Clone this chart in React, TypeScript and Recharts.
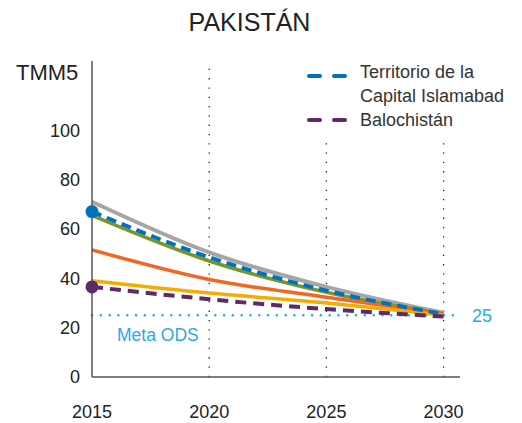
import { LineChart, Line, XAxis, YAxis, ReferenceLine, Label } from "recharts";

const years = [2015, 2020, 2025, 2030];
const nacional = [71, 50.5, 36.5, 26];
const islamabad = [67, 48.5, 35, 25.5];
const verde = [65.5, 47, 34.3, 25.5];
const naranja = [51.5, 39.5, 32.3, 25.5];
const amarillo = [39, 34, 30, 25];
const balochistan = [36.5, 31.5, 27.5, 24.5];
const yTicks = [0, 20, 40, 60, 80, 100];
const metaODS = 25;

const data = years.map((year, i) => ({
  year,
  nacional: nacional[i],
  islamabad: islamabad[i],
  verde: verde[i],
  naranja: naranja[i],
  amarillo: amarillo[i],
  balochistan: balochistan[i],
}));

const font = "'Liberation Sans', Arial, sans-serif";
const textColor = "#222";

function firstDot(color: string) {
  return (props: any) => {
    const { cx, cy, index } = props;
    if (index !== 0) return <g key={`d${index}`} />;
    return <circle key={`d${index}`} cx={cx} cy={cy} r={6.5} fill={color} />;
  };
}

function LegendDash({ color, top }: { color: string; top: number }) {
  return (
    <svg width={42} height={8} style={{ position: "absolute", left: 305, top: top - 4 }}>
      <line x1={4} y1={4} x2={40} y2={4} stroke={color} strokeWidth={4} strokeLinecap="round" strokeDasharray="11 14" />
    </svg>
  );
}

const legendText = { position: "absolute" as const, left: 360, fontSize: 18, color: "#333", lineHeight: "22px", whiteSpace: "nowrap" as const };

export default function App() {
  return (
    <div style={{ position: "absolute", left: 0, top: 0, width: 522, height: 423, background: "#fff", fontFamily: font }}>
      <div style={{ position: "absolute", left: 0, width: 499, top: 8, textAlign: "center", fontSize: 25, color: textColor }}>
        PAKISTÁN
      </div>
      <div style={{ position: "absolute", left: 16, top: 60, fontSize: 22, color: textColor }}>TMM5</div>
      <LegendDash color="#0072bc" top={76} />
      <div style={{ ...legendText, top: 61 }}>Territorio de la</div>
      <div style={{ ...legendText, top: 85 }}>Capital Islamabad</div>
      <LegendDash color="#5f2a6a" top={120} />
      <div style={{ ...legendText, top: 109 }}>Balochistán</div>
      <LineChart width={522} height={423} data={data} margin={{ top: 61, right: 62, bottom: 16, left: 32 }}>
        <XAxis
          dataKey="year"
          type="number"
          domain={[2015, 2030.7]}
          ticks={years}
          tickLine={false}
          tickSize={6}
          tickMargin={22}
          axisLine={{ stroke: "#555", strokeWidth: 1.5 }}
          tick={{ fill: textColor, fontSize: 18, fontFamily: font }}
          height={30}
        />
        <YAxis
          type="number"
          domain={[0, 128]}
          ticks={yTicks}
          tickLine={false}
          tickSize={6}
          tickMargin={6}
          axisLine={{ stroke: "#555", strokeWidth: 1.5 }}
          tick={{ fill: textColor, fontSize: 18, fontFamily: font }}
          width={60}
        />
        <ReferenceLine x={2020} stroke="#222" strokeWidth={1.3} strokeDasharray="1.3 8" />
        <ReferenceLine segment={[{ x: 2025, y: 0 }, { x: 2025, y: 94.8 }]} stroke="#222" strokeWidth={1.3} strokeDasharray="1.3 8" />
        <ReferenceLine segment={[{ x: 2030, y: 0 }, { x: 2030, y: 94.8 }]} stroke="#222" strokeWidth={1.3} strokeDasharray="1.3 8" />
        <ReferenceLine y={metaODS} stroke="#29abe2" strokeWidth={2.5} strokeDasharray="0.1 8.7" strokeLinecap="round">
          <Label value="25" position="right" offset={12} fill="#29abe2" fontSize={18} fontFamily={font} />
          <Label value="Meta ODS" position="insideTopLeft" offset={13} dx={12} fill="#29abe2" fontSize={17.5} fontFamily={font} />
        </ReferenceLine>
        <Line type="monotone" dataKey="nacional" stroke="#a6a6a6" strokeWidth={4} dot={false} isAnimationActive={false} />
        <Line type="monotone" dataKey="verde" stroke="#7a962a" strokeWidth={3.5} dot={false} isAnimationActive={false} />
        <Line type="monotone" dataKey="naranja" stroke="#f26522" strokeWidth={3.5} dot={false} isAnimationActive={false} />
        <Line type="monotone" dataKey="amarillo" stroke="#f5ac00" strokeWidth={3.5} dot={false} isAnimationActive={false} />
        <Line
          type="monotone"
          dataKey="islamabad"
          stroke="#0072bc"
          strokeWidth={4}
          strokeDasharray="10 6"
          dot={firstDot("#0072bc")}
          isAnimationActive={false}
        />
        <Line
          type="monotone"
          dataKey="balochistan"
          stroke="#5f2a6a"
          strokeWidth={4}
          strokeDasharray="11 7"
          dot={firstDot("#5f2a6a")}
          isAnimationActive={false}
        />
      </LineChart>
    </div>
  );
}
